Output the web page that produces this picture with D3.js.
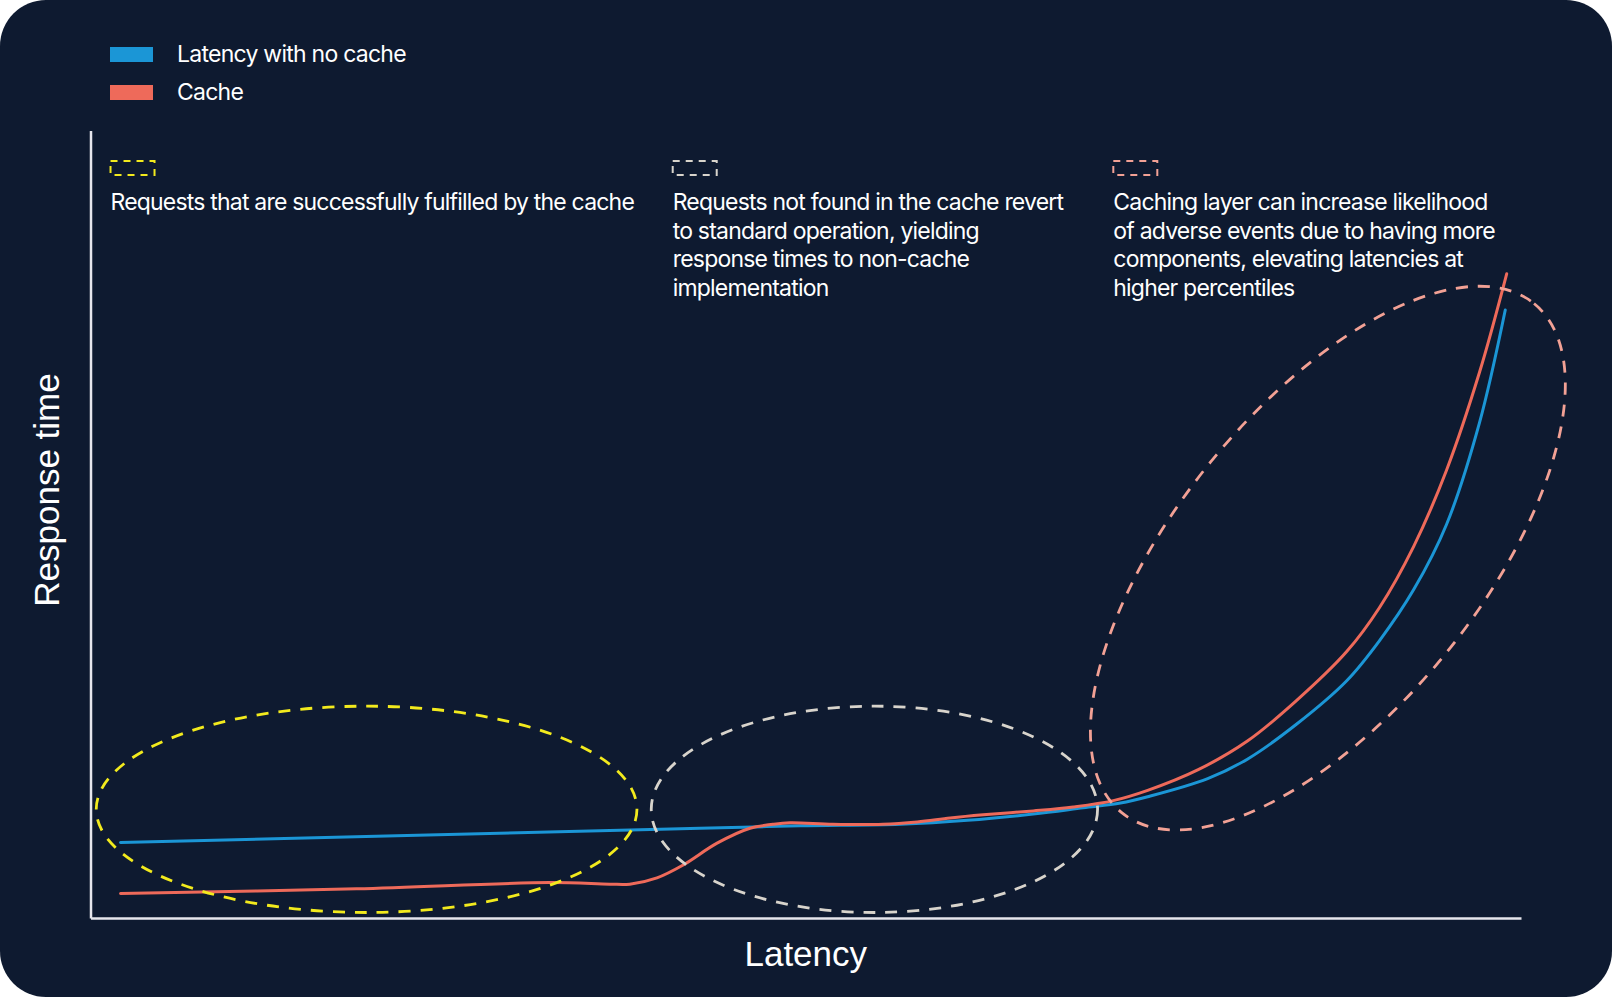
<!DOCTYPE html>
<html>
<head>
<meta charset="utf-8">
<script src="https://cdn.jsdelivr.net/npm/d3@7"></script>
<style>
  html, body { margin: 0; padding: 0; background: #ffffff; }
  svg { display: block; }
  text { font-family: Inter, "Noto Sans", sans-serif; fill: #ffffff; }
  .note { font-size: 23px; letter-spacing: -0.8px; }
  .legend-label { font-size: 23px; letter-spacing: -0.75px; }
  .axis-label { font-family: "Liberation Sans", Arial, sans-serif; }
  .axis path { stroke: #e6e6ec; stroke-width: 2.5; }
</style>
</head>
<body>
<div id="chart"></div>
<script>
// series names for the legend
const seriesNames = ["Latency with no cache", "Cache"];

// latency (x, 0-100 along the axis) vs response time (y, 0-100 up the axis)
const noCache = [
  { x: 2.1, y: 9.6 }, { x: 36.3, y: 11.1 }, { x: 42.6, y: 11.4 }, { x: 49.6, y: 11.7 },
  { x: 56.6, y: 11.9 }, { x: 61.3, y: 12.4 }, { x: 65.9, y: 13.2 }, { x: 69.4, y: 14.0 },
  { x: 72.0, y: 14.6 }, { x: 73.9, y: 15.4 }, { x: 78.1, y: 17.7 }, { x: 80.9, y: 20.2 },
  { x: 84.3, y: 24.6 }, { x: 87.8, y: 30.1 }, { x: 90.1, y: 35.2 }, { x: 92.5, y: 41.7 },
  { x: 94.8, y: 50.0 }, { x: 97.1, y: 62.9 }, { x: 98.9, y: 77.2 }
];

const withCache = [
  { x: 2.1, y: 3.1 }, { x: 18.6, y: 3.7 }, { x: 32.1, y: 4.5 }, { x: 36.3, y: 4.3 },
  { x: 37.7, y: 4.3 }, { x: 39.6, y: 5.1 }, { x: 41.4, y: 6.7 }, { x: 43.8, y: 9.5 },
  { x: 46.1, y: 11.4 }, { x: 47.7, y: 11.9 }, { x: 48.9, y: 12.1 }, { x: 51.9, y: 11.9 },
  { x: 55.4, y: 11.9 }, { x: 57.8, y: 12.2 }, { x: 60.1, y: 12.7 }, { x: 62.4, y: 13.1 },
  { x: 65.9, y: 13.6 }, { x: 68.7, y: 14.1 }, { x: 71.5, y: 14.9 }, { x: 73.9, y: 16.2 },
  { x: 77.4, y: 18.8 }, { x: 80.9, y: 22.5 }, { x: 84.3, y: 27.6 }, { x: 87.8, y: 33.8 },
  { x: 90.1, y: 39.4 }, { x: 92.5, y: 47.2 }, { x: 94.8, y: 56.9 }, { x: 97.1, y: 69.3 },
  { x: 99.0, y: 81.8 }
];

// highlighted regions, in data units (radii in x units for the tilted one)
const regions = [
  { cx: 19.3, cy: 13.8, rx: 18.9, ry: 13.1 },
  { cx: 54.8, cy: 13.8, rx: 15.6, ry: 13.1 },
  { cx: 86.5, cy: 45.7, a: 22.9, b: 10.6, angle: -51 }
];

// annotation texts, one per region
const notes = [
  ["Requests that are successfully fulfilled by the cache"],
  ["Requests not found in the cache revert", "to standard operation, yielding",
   "response times to non-cache", "implementation"],
  ["Caching layer can increase likelihood", "of adverse events due to having more",
   "components, elevating latencies at", "higher percentiles"]
];

const axisTitles = { x: "Latency", y: "Response time" };

// ---- layout & styles ----
const width = 1612, height = 997;
const margin = { top: 130.5, right: 91, bottom: 79, left: 90.5 };
const seriesColors = ["#1b96d6", "#ee6a5a"];
const regionColors = ["#f2ea1d", "#d8d4cc", "#f2a195"];
const noteX = [1.4, 40.7, 71.5];

const svg = d3.select("#chart")
  .append("svg")
  .attr("width", width)
  .attr("height", height);

// card background
svg.append("rect")
  .attr("width", width)
  .attr("height", height)
  .attr("rx", 46)
  .attr("fill", "#0e1a30");

const xScale = d3.scaleLinear()
  .domain([0, 100])
  .range([margin.left, width - margin.right]);

const yScale = d3.scaleLinear()
  .domain([0, 100])
  .range([height - margin.bottom, margin.top]);

// axes without ticks, only the lines
svg.append("g")
  .attr("class", "axis x-axis")
  .attr("transform", `translate(0,${height - margin.bottom})`)
  .call(d3.axisBottom(xScale).tickValues([]).tickSizeOuter(0));

svg.append("g")
  .attr("class", "axis y-axis")
  .attr("transform", `translate(${margin.left},0)`)
  .call(d3.axisLeft(yScale).tickValues([]).tickSizeOuter(0));

// axis titles
svg.append("text")
  .attr("class", "axis-label")
  .attr("x", (xScale.range()[0] + xScale.range()[1]) / 2)
  .attr("y", height - 31)
  .attr("text-anchor", "middle")
  .attr("font-size", 35)
  .text(axisTitles.x);

svg.append("text")
  .attr("class", "axis-label")
  .attr("transform", "rotate(-90)")
  .attr("x", -490)
  .attr("y", 59)
  .attr("text-anchor", "middle")
  .attr("font-size", 35)
  .text(axisTitles.y);

// lines
const line = d3.line()
  .x((d) => xScale(d.x))
  .y((d) => yScale(d.y))
  .curve(d3.curveCatmullRom.alpha(0.5));

svg.selectAll(".series")
  .data([noCache, withCache])
  .enter()
  .append("path")
  .attr("class", "series")
  .attr("d", line)
  .attr("fill", "none")
  .attr("stroke", (d, i) => seriesColors[i])
  .attr("stroke-width", 3)
  .attr("stroke-linecap", "round");

// dashed regions (drawn over the lines)
const px = (v) => xScale(v) - xScale(0);
const py = (v) => yScale(0) - yScale(v);

svg.selectAll(".region")
  .data(regions)
  .enter()
  .append("ellipse")
  .attr("class", "region")
  .attr("transform", (d) => `translate(${xScale(d.cx)},${yScale(d.cy)}) rotate(${d.angle || 0})`)
  .attr("rx", (d) => (d.a ? px(d.a) : px(d.rx)))
  .attr("ry", (d) => (d.b ? px(d.b) : py(d.ry)))
  .attr("fill", "none")
  .attr("stroke", (d, i) => regionColors[i])
  .attr("stroke-width", 2.8)
  .attr("stroke-dasharray", "12 10");

// legend
const legend = svg.append("g").attr("class", "legend");
seriesNames.forEach((name, i) => {
  const ly = 47 + i * 38;
  legend.append("rect")
    .attr("x", 110)
    .attr("y", ly)
    .attr("width", 43)
    .attr("height", 15)
    .attr("fill", seriesColors[i]);
  legend.append("text")
    .attr("class", "legend-label")
    .attr("x", 177)
    .attr("y", ly + 15)
    .text(name);
});

// annotations: small dashed swatch + text
notes.forEach((lines, i) => {
  const nx = xScale(noteX[i]);
  svg.append("rect")
    .attr("x", nx)
    .attr("y", 161)
    .attr("width", 44)
    .attr("height", 14)
    .attr("fill", "none")
    .attr("stroke", regionColors[i])
    .attr("stroke-width", 2)
    .attr("stroke-dasharray", "7 6");

  const t = svg.append("text")
    .attr("class", "note")
    .attr("x", nx)
    .attr("y", 210);
  t.selectAll("tspan")
    .data(lines)
    .enter()
    .append("tspan")
    .attr("x", nx)
    .attr("dy", (d, j) => (j === 0 ? 0 : 28.6))
    .text((d) => d);
});
</script>
</body>
</html>
